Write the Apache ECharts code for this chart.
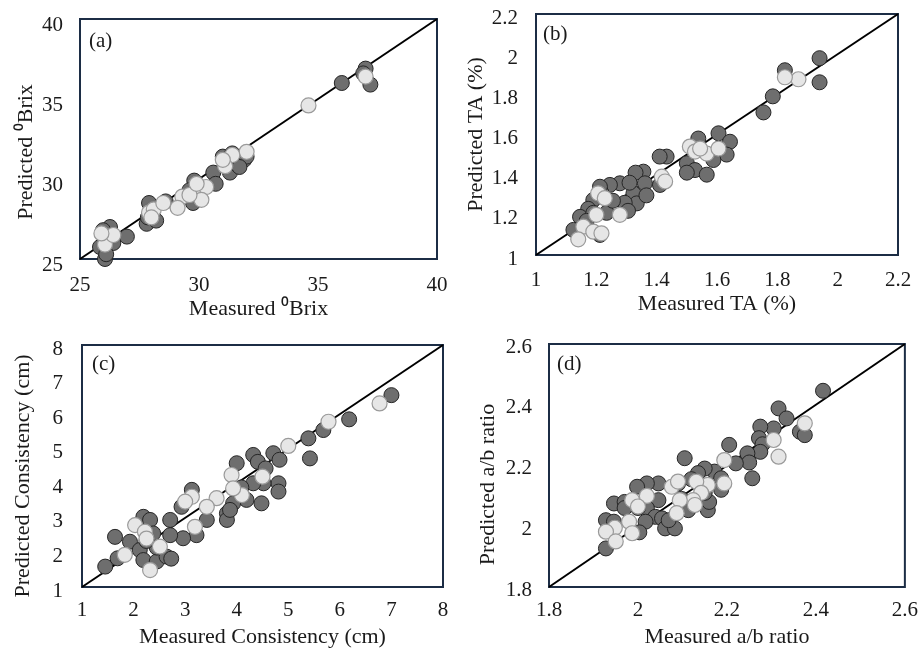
<!DOCTYPE html>
<html>
<head>
<meta charset="utf-8">
<script src="https://cdn.jsdelivr.net/npm/echarts@6/dist/echarts.min.js"></script>
<style>
  html, body { margin: 0; padding: 0; background: #fff; }
  #chart { width: 921px; height: 649px; }
</style>
</head>
<body>
<div id="chart"></div>
<script>
// ---- Data: [measured, predicted] pairs ----
// (a) Brix
const brixCal = [
  [37.0, 36.9], [37.2, 35.9], [36.0, 36.0], [36.9, 36.6],
  [31.3, 30.4], [30.6, 30.4], [30.7, 29.7], [31.4, 31.0], [31.9, 31.2], [32.0, 31.4],
  [31.0, 31.4], [31.4, 31.6], [31.7, 30.75],
  [29.8, 29.9], [29.75, 28.5], [29.6, 29.3],
  [27.9, 28.5], [27.8, 27.2], [28.2, 27.4], [28.6, 28.6], [27.85, 27.6],
  [26.97, 26.4], [26.26, 27.0], [25.97, 26.8], [25.84, 25.75], [26.05, 25.0],
  [26.4, 26.0], [26.1, 25.3]
];
const brixVal = [
  [37.0, 36.4], [34.6, 34.6],
  [32.0, 31.7], [31.4, 31.5], [31.1, 30.8], [31.0, 31.2],
  [29.97, 29.4], [30.3, 29.5], [30.1, 28.7], [29.3, 28.9], [29.6, 29.0], [29.1, 28.2], [29.9, 29.7],
  [27.9, 27.9], [28.1, 28.1], [28.5, 28.5], [28.0, 27.6],
  [26.2, 26.4], [26.05, 25.9], [26.4, 26.5], [25.9, 26.6]
];
// (b) Titratable acidity
const taCal = [
  [1.94, 1.98], [1.94, 1.86], [1.825, 1.92], [1.785, 1.79], [1.754, 1.71],
  [1.605, 1.606], [1.643, 1.564], [1.632, 1.50], [1.538, 1.58], [1.50, 1.457],
  [1.527, 1.423], [1.566, 1.40], [1.50, 1.41], [1.433, 1.49], [1.41, 1.49],
  [1.588, 1.473], [1.356, 1.415], [1.33, 1.41], [1.361, 1.357], [1.323, 1.307],
  [1.334, 1.257], [1.366, 1.297], [1.411, 1.349], [1.278, 1.357], [1.245, 1.349],
  [1.217, 1.31], [1.19, 1.274], [1.173, 1.23], [1.146, 1.19], [1.124, 1.125],
  [1.212, 1.10], [1.234, 1.21], [1.294, 1.26], [1.305, 1.22], [1.255, 1.27],
  [1.19, 1.21], [1.212, 1.34], [1.168, 1.17], [1.31, 1.36]
];
const taVal = [
  [1.87, 1.875], [1.825, 1.885], [1.51, 1.54], [1.527, 1.515], [1.566, 1.505],
  [1.605, 1.53], [1.544, 1.53], [1.417, 1.39], [1.428, 1.366], [1.278, 1.20],
  [1.20, 1.20], [1.206, 1.307], [1.228, 1.283], [1.157, 1.141], [1.19, 1.116],
  [1.14, 1.078], [1.217, 1.108]
];
// (c) Consistency
const consCal = [
  [7.0, 6.55], [6.18, 5.85], [5.68, 5.54], [5.39, 5.30], [5.42, 4.72],
  [4.71, 4.87], [4.83, 4.68], [4.32, 4.82], [4.41, 4.62], [4.0, 4.58],
  [4.56, 4.43], [4.81, 4.0], [4.81, 3.76], [4.52, 4.0], [4.32, 4.0],
  [4.19, 3.52], [4.48, 3.42], [3.93, 3.42], [3.81, 3.13], [3.81, 2.94],
  [3.87, 3.23], [4.09, 3.88], [3.13, 3.81], [2.93, 3.32], [3.42, 2.94],
  [3.22, 2.50], [2.96, 2.41], [2.71, 2.94], [2.71, 2.50], [2.19, 3.03],
  [2.32, 2.94], [1.64, 2.45], [1.93, 2.31], [2.12, 2.07], [2.19, 1.78],
  [2.45, 1.74], [2.64, 1.88], [2.73, 1.82], [2.38, 2.55], [1.45, 1.59],
  [1.69, 1.83], [2.45, 2.14], [2.25, 2.33]
];
const consVal = [
  [6.77, 6.31], [5.78, 5.78], [5.0, 5.08], [4.50, 4.19], [3.90, 4.24],
  [4.10, 3.66], [3.93, 3.85], [3.61, 3.57], [3.42, 3.32], [3.13, 3.61],
  [3.0, 3.47], [3.19, 2.74], [2.03, 2.79], [2.22, 2.60], [2.25, 2.40],
  [2.51, 2.17], [2.32, 1.49], [1.83, 1.93]
];
// (d) a/b colour ratio
const abCal = [
  [2.416, 2.446], [2.316, 2.388], [2.334, 2.355], [2.305, 2.322], [2.275, 2.328],
  [2.364, 2.311], [2.375, 2.30], [2.272, 2.29], [2.28, 2.27], [2.275, 2.245],
  [2.246, 2.24], [2.25, 2.21], [2.257, 2.158], [2.205, 2.268], [2.22, 2.207],
  [2.105, 2.224], [2.172, 2.18], [2.15, 2.19], [2.187, 2.158], [2.187, 2.12],
  [2.135, 2.175], [2.12, 2.155], [2.157, 2.053], [2.16, 2.08], [2.046, 2.141],
  [2.02, 2.141], [1.998, 2.13], [2.046, 2.086], [2.02, 2.06], [2.0, 2.06],
  [2.039, 2.031], [2.054, 2.026], [2.061, 1.993], [2.083, 1.993], [2.069, 2.02],
  [2.017, 2.015], [1.946, 2.075], [1.97, 2.08], [1.97, 2.06], [1.928, 2.02],
  [1.946, 2.015], [1.928, 1.927], [2.003, 1.98], [2.113, 2.053], [2.098, 2.09],
  [2.15, 2.11], [2.09, 2.14]
];
const abVal = [
  [2.375, 2.339], [2.305, 2.284], [2.316, 2.229], [2.194, 2.218], [2.194, 2.141],
  [2.157, 2.136], [2.131, 2.147], [2.142, 2.11], [2.124, 2.086], [2.128, 2.07],
  [2.094, 2.086], [2.076, 2.13], [2.087, 2.043], [2.09, 2.147], [2.02, 2.10],
  [1.987, 2.086], [2.0, 2.065], [1.98, 2.015], [1.987, 1.977], [1.948, 1.995],
  [1.928, 1.982], [1.95, 1.95]
];

// Axis ranges and titles per panel
const axisMin = [25, 1, 1, 1.8];
const axisMax = [40, 2.2, 8, 2.6];
const axisStep = [5, 0.2, 1, 0.2];
const xTitles = ['Measured \u2070Brix', 'Measured TA (%)', 'Measured Consistency (cm)', 'Measured a/b ratio'];
const yTitles = ['Predicted \u2070Brix', 'Predicted TA (%)', 'Predicted Consistency (cm)', 'Predicted a/b ratio'];
const panelTags = ['(a)', '(b)', '(c)', '(d)'];
const calSets = [brixCal, taCal, consCal, abCal];
const valSets = [brixVal, taVal, consVal, abVal];

// ---- Layout ----
const grids = [
  { left: 80, top: 19, width: 357, height: 240 },
  { left: 536, top: 14, width: 362, height: 241 },
  { left: 82, top: 345, width: 361, height: 242 },
  { left: 549, top: 344, width: 361, height: 243 }
];
const xLabelMargin = [16, 15, 13, 13];
const yLabelMargin = [17, 18, 19, 17];
const yLabelDrop = [12, 8, 8, 6];
const xNameGap = [39, 38, 39, 39];
const yNameGap = [43, 49, 48, 50];
const yNameShift = [26, 0, 20, 38];
const tagPos = [[89, 42], [543, 35], [92, 365], [557, 365]];

const FONT = '"Liberation Serif", "Times New Roman", serif';
const textColor = '#1a1a1a';
const TICK_SIZE = 21;
const TITLE_SIZE = 22;

const option = {
  animation: false,
  backgroundColor: '#fff',
  grid: grids.map(g => Object.assign({
    show: true, borderColor: '#1c2d45', borderWidth: 2, backgroundColor: 'transparent'
  }, g)),
  xAxis: grids.map((g, i) => ({
    type: 'value', gridIndex: i,
    min: axisMin[i], max: axisMax[i], interval: axisStep[i],
    axisLine: { show: false }, axisTick: { show: false }, splitLine: { show: false },
    axisLabel: { margin: xLabelMargin[i], fontFamily: FONT, fontSize: TICK_SIZE, color: textColor },
    name: xTitles[i], nameLocation: 'middle', nameGap: xNameGap[i],
    nameTextStyle: { fontFamily: FONT, fontSize: TITLE_SIZE, color: textColor }
  })),
  yAxis: grids.map((g, i) => ({
    type: 'value', gridIndex: i,
    min: axisMin[i], max: axisMax[i], interval: axisStep[i],
    axisLine: { show: false }, axisTick: { show: false }, splitLine: { show: false },
    axisLabel: {
      margin: yLabelMargin[i], color: textColor,
      formatter: v => '{t|' + String(+Number(v).toFixed(4)) + '}',
      rich: { t: { fontFamily: FONT, fontSize: TICK_SIZE, color: textColor, padding: [yLabelDrop[i], 0, 0, 0] } }
    },
    name: yTitles[i], nameLocation: 'middle', nameGap: yNameGap[i],
    nameTextStyle: { fontFamily: FONT, fontSize: TITLE_SIZE, color: textColor, padding: [0, yNameShift[i], 0, 0] }
  })),
  series: [],
  graphic: panelTags.map((t, i) => ({
    type: 'text', left: tagPos[i][0], top: tagPos[i][1] - 11,
    style: { text: t, font: '21px ' + FONT, fill: textColor }
  }))
};

for (let i = 0; i < 4; i++) {
  // 1:1 reference line across the whole axis range
  option.series.push({
    type: 'line', xAxisIndex: i, yAxisIndex: i, symbol: 'none', silent: true,
    lineStyle: { color: '#000', width: 2 },
    data: [[axisMin[i], axisMin[i]], [axisMax[i], axisMax[i]]],
    z: 1
  });
  option.series.push({
    type: 'scatter', xAxisIndex: i, yAxisIndex: i, symbolSize: 15,
    itemStyle: { color: '#6e6e6e', borderColor: '#262626', borderWidth: 1, opacity: 1 },
    data: calSets[i], z: 2
  });
  option.series.push({
    type: 'scatter', xAxisIndex: i, yAxisIndex: i, symbolSize: 15,
    itemStyle: { color: '#e6e6e6', borderColor: '#9a9a9a', borderWidth: 1.2, opacity: 1 },
    data: valSets[i], z: 3
  });
}

const chart = echarts.init(document.getElementById('chart'), null, { renderer: 'canvas' });
chart.setOption(option);
</script>
</body>
</html>
